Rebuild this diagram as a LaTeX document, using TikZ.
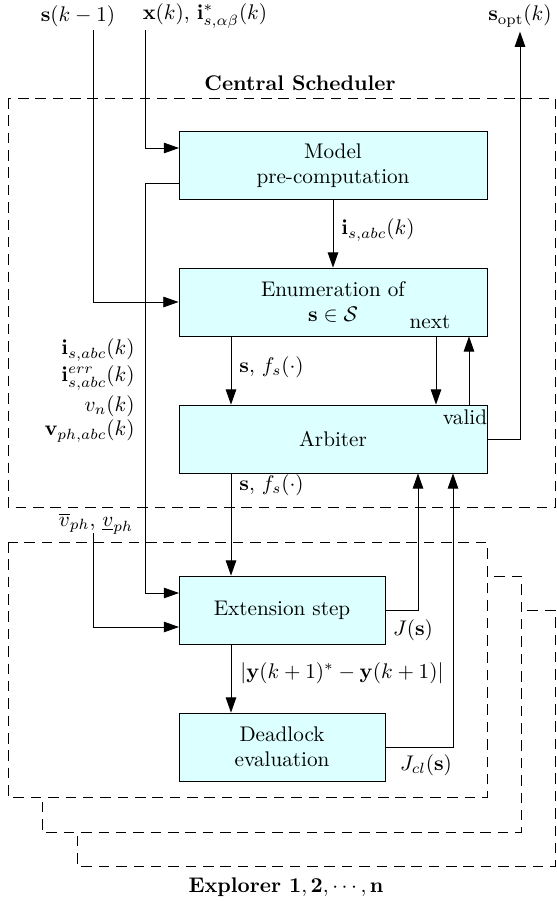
\documentclass[tikz,border=0pt]{standalone}
\usetikzlibrary{arrows.meta}
\definecolor{boxfill}{RGB}{220,255,255}
\begin{document}
\begin{tikzpicture}[x=0.4723pt,y=-0.4723pt,
  box/.style={draw, fill=boxfill, align=center, inner sep=0pt},
  bigbox/.style={box, minimum width=145.5pt, minimum height=32.1pt},
  smallbox/.style={box, minimum width=97.3pt, minimum height=32.1pt},
  arr/.style={-{Triangle[length=7.2pt,width=5pt]}},
  dbox/.style={dash pattern=on 5pt off 3.2pt, fill=white},
  lab/.style={inner sep=0pt}]
\useasboundingbox (0,0) rectangle (557,901);

% dashed frames
\draw[dbox] (77,610) rectangle (555,866);
\draw[dbox] (42,576) rectangle (521,832);
\draw[dbox] (8,542) rectangle (487,797);
\draw[dbox, fill=none] (8,98) rectangle (555.5,507);

\node[lab] (cs) at (300,83) {\textbf{Central Scheduler}};
\node[lab] (expl) at (286,887) {\textbf{Explorer $\mathbf{1,2,\cdots,n}$}};

% blocks
\node[bigbox] (model) at (333,165.5) {Model\\pre-computation};
\node[bigbox] (enum) at (333,302) {Enumeration of\\$\mathbf{s}\in\mathcal{S}$};
\node[bigbox] (arb) at (333,439) {Arbiter};
\node[smallbox] (ext) at (282,610) {Extension step};
\node[smallbox] (dead) at (282,747) {Deadlock\\evaluation};

% top labels
\node[lab] (slab) at (78,16) {$\mathbf{s}(k-1)$};
\node[lab] (xlab) at (205,16) {$\mathbf{x}(k)$, $\mathbf{i}^*_{s,\alpha\beta}(k)$};
\node[lab] (sopt) at (520,16) {$\mathbf{s}_{\mathrm{opt}}(k)$};

% other labels
\node[lab] (iabc) at (378,230) {$\mathbf{i}_{s,abc}(k)$};
\node[lab, anchor=west] (sf1) at (239,367) {$\mathbf{s},\, f_s(\cdot)$};
\node[lab, anchor=west] (sf2) at (239,485) {$\mathbf{s},\, f_s(\cdot)$};
\node[lab] (next) at (430,322) {next};
\node[lab] (valid) at (465,417) {valid};
\node[lab, anchor=east] (l1) at (135,350) {$\mathbf{i}_{s,abc}(k)$};
\node[lab, anchor=east] (l2) at (135,378) {$\mathbf{i}^{err}_{s,abc}(k)$};
\node[lab, anchor=east] (l3) at (135,406) {$v_n(k)$};
\node[lab, anchor=east] (l4) at (135,431) {$\mathbf{v}_{ph,abc}(k)$};
\node[lab] (vlab) at (96,524) {$\overline{v}_{ph}$, $\underline{v}_{ph}$};
\node[lab] (js) at (413,630) {$J(\mathbf{s})$};
\node[lab] (jcl) at (426,765) {$J_{cl}(\mathbf{s})$};
\node[lab, anchor=west] (ydiff) at (240,673) {$|\mathbf{y}(k+1)^*-\mathbf{y}(k+1)|$};

% rails and free ends
\coordinate (xa) at (231,0);
\coordinate (xn) at (436,0);
\coordinate (xv) at (469,0);
\coordinate (xj) at (418,0);
\coordinate (xc) at (453,0);
\coordinate (s0) at (93,30);
\coordinate (x0) at (145,30);
\coordinate (min) at (179,148);
\coordinate (mout) at (179,183);
\coordinate (ein1) at (179,593);
\coordinate (v0) at (93,533);
\coordinate (ein2) at (179,627);

% connectors
\draw[arr] (s0) |- (enum.west);
\draw[arr] (x0) |- (min);
\draw[arr] (mout) -- (mout -| x0) -- (x0 |- ein1) -- (ein1);
\draw[arr] (v0) |- (ein2);
\draw[arr] (model) -- (enum);
\draw[arr] (enum.south -| xa) -- (arb.north -| xa);
\draw[arr] (enum.south -| xn) -- (arb.north -| xn);
\draw[arr] (arb.north -| xv) -- (enum.south -| xv);
\draw[arr] (arb.east) -| ([yshift=-2pt]sopt.south);
\draw[arr] (arb.south -| xa) -- (ext.north -| xa);
\draw[arr] (ext.east) -| (arb.south -| xj);
\draw[arr] (dead.east) -| (arb.south -| xc);
\draw[arr] (ext.south -| xa) -- (dead.north -| xa);
\end{tikzpicture}
\end{document}
